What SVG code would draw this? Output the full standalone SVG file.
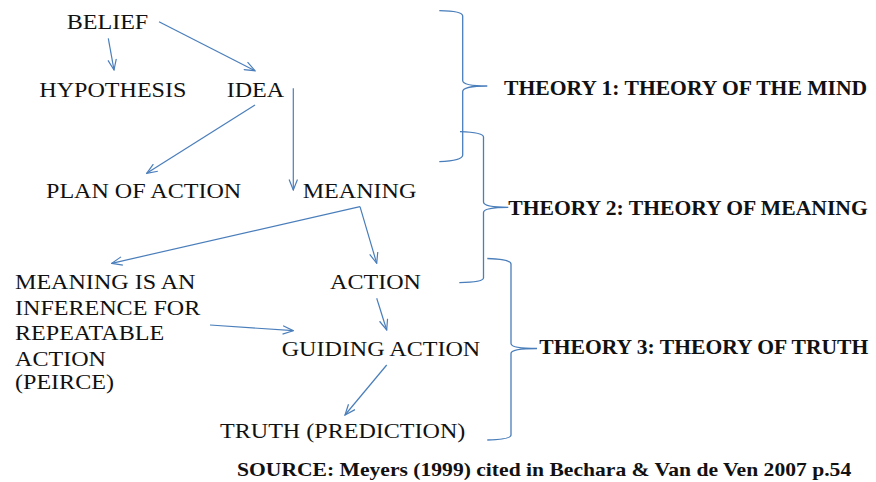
<svg xmlns="http://www.w3.org/2000/svg" width="876" height="482" viewBox="0 0 876 482">
  <style>
    .node { font-size: 22px; fill: #111; }
    .theory { font-size: 20px; font-weight: bold; fill: #111; }
    .source { font-size: 18px; font-weight: bold; fill: #111; }
    .link { fill: none; stroke: #4a7ebb; stroke-width: 1.2; marker-end: url(#arrow); }
    .brace { fill: none; stroke: #4a7ebb; stroke-width: 1.3; }
  </style>
  <defs>
    <marker id="arrow" viewBox="0 0 12 10" refX="11" refY="5" markerWidth="12" markerHeight="10" markerUnits="userSpaceOnUse" orient="auto">
      <path d="M0.5,0.8 L11,5 L0.5,9.2" fill="none" stroke="#4a7ebb" stroke-width="1.2"/>
    </marker>
  </defs>
  <rect width="876" height="482" fill="#ffffff"/>

  <g font-family="Liberation Serif">
    <!-- concept nodes (type is set slightly wide) -->
    <g id="belief"><text class="node" transform="translate(66.7,29.3) scale(1.095,1)">BELIEF</text></g>
    <g id="hypothesis"><text class="node" transform="translate(39.3,96.7) scale(1.095,1)">HYPOTHESIS</text></g>
    <g id="idea"><text class="node" transform="translate(226.7,96.7) scale(1.095,1)">IDEA</text></g>
    <g id="plan-of-action"><text class="node" transform="translate(46,198.3) scale(1.095,1)">PLAN OF ACTION</text></g>
    <g id="meaning"><text class="node" transform="translate(302.7,197.7) scale(1.095,1)">MEANING</text></g>
    <g id="meaning-inference">
      <text class="node" transform="translate(15,289.3) scale(1.095,1)">MEANING IS AN</text>
      <text class="node" transform="translate(15,315) scale(1.095,1)">INFERENCE FOR</text>
      <text class="node" transform="translate(15,340) scale(1.095,1)">REPEATABLE</text>
      <text class="node" transform="translate(15,366.2) scale(1.095,1)">ACTION</text>
      <text class="node" transform="translate(15,389) scale(1.095,1)">(PEIRCE)</text>
    </g>
    <g id="action"><text class="node" transform="translate(330,289.3) scale(1.095,1)">ACTION</text></g>
    <g id="guiding-action"><text class="node" transform="translate(281.7,356) scale(1.095,1)">GUIDING ACTION</text></g>
    <g id="truth"><text class="node" transform="translate(220,438) scale(1.095,1)">TRUTH (PREDICTION)</text></g>

    <!-- theory labels -->
    <g id="theory-1"><text class="theory" transform="translate(504,95) scale(1.081,1)">THEORY 1: THEORY OF THE MIND</text></g>
    <g id="theory-2"><text class="theory" transform="translate(508.3,215) scale(1.081,1)">THEORY 2: THEORY OF MEANING</text></g>
    <g id="theory-3"><text class="theory" transform="translate(539.3,354.3) scale(1.081,1)">THEORY 3: THEORY OF TRUTH</text></g>

    <g id="source"><text class="source" transform="translate(237,475.5) scale(1.2,1)">SOURCE: Meyers (1999) cited in Bechara &amp; Van de Ven 2007 p.54</text></g>
  </g>

  <!-- braces grouping the stages -->
  <g id="braces">
    <path class="brace" d="M439.3,10.7 Q462.7,11 462.7,16 L462.7,80.5 Q462.7,86 487.3,86 Q462.7,86 462.7,91.5 L462.7,155 Q462.7,160.5 439.3,161.7"/>
    <path class="brace" d="M460,131.7 Q483.5,132.5 483.5,137 L483.5,202 Q483.5,207.3 508.3,207.3 Q483.5,207.3 483.5,212.5 L483.5,278 Q483.5,282 459.3,282.7"/>
    <path class="brace" d="M487.3,258.5 Q511,259.3 511,264 L511,343.5 Q511,348.5 537,348.5 Q511,348.5 511,353.5 L511,435 Q511,439.5 487.3,440"/>
  </g>

  <!-- connectors -->
  <g id="connectors">
    <path class="link" d="M108.3,38.3 L114,70"/>
    <path class="link" d="M159,21.7 L255,70.7"/>
    <path class="link" d="M255,105 L146.7,173.3"/>
    <path class="link" d="M293.3,88.3 L293.3,190"/>
    <path class="link" d="M360,206.7 L111.7,263.3"/>
    <path class="link" d="M360,206.7 L376.7,263.3"/>
    <path class="link" d="M210,325 L293.3,330.7"/>
    <path class="link" d="M376.7,298.3 L386.7,330"/>
    <path class="link" d="M386.7,365 L345,415"/>
  </g>
</svg>
